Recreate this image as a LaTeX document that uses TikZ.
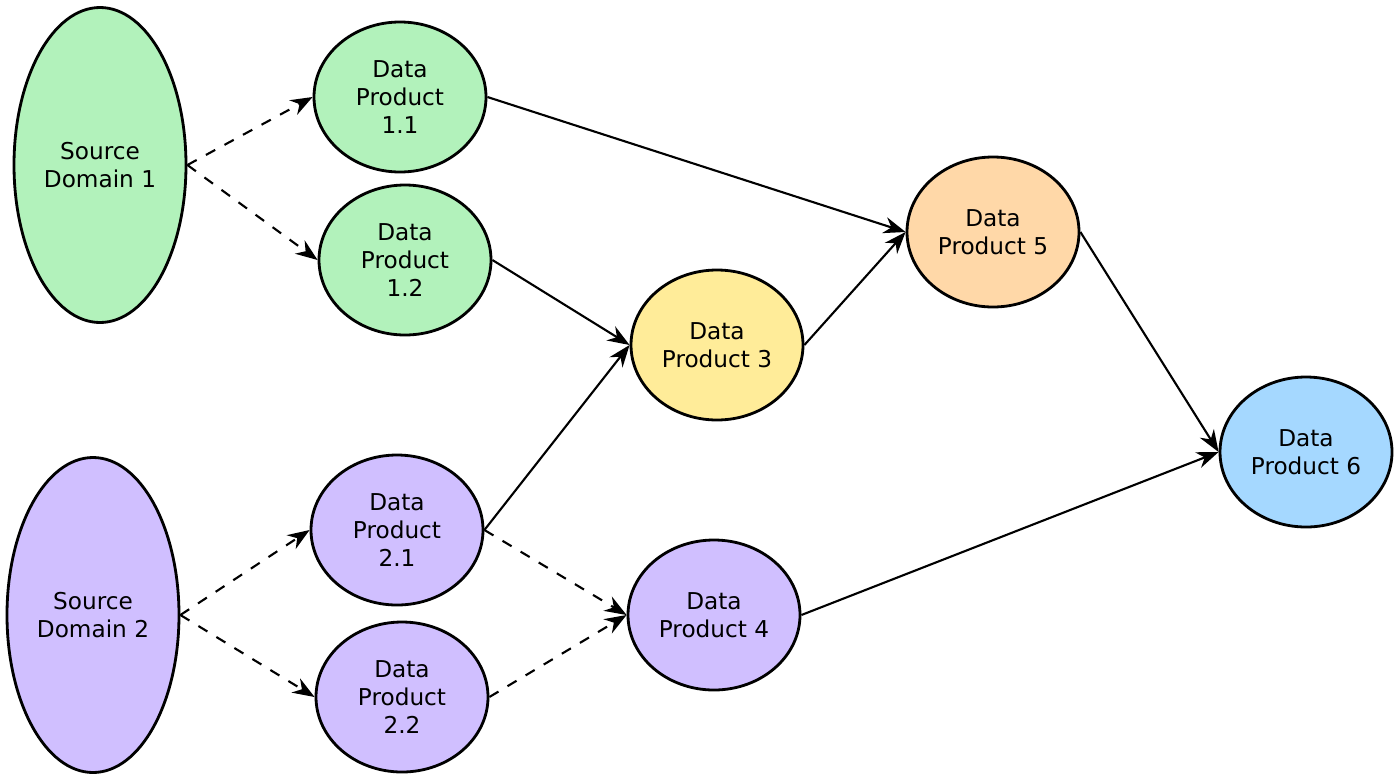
\documentclass[tikz,border=0pt]{standalone}
\usepackage{fontspec}
\setmainfont{DejaVu Sans}
\usepackage{xcolor}
\usetikzlibrary{shapes.geometric,arrows.meta}
\definecolor{dpgreen}{HTML}{B2F2BB}
\definecolor{dpviolet}{HTML}{D0BFFF}
\definecolor{dpyellow}{HTML}{FFEC99}
\definecolor{dporange}{HTML}{FFD8A8}
\definecolor{dpblue}{HTML}{A5D8FF}
\tikzset{
  prod/.style={draw, thick, ellipse, minimum width=1.72cm, minimum height=1.5cm,
               align=center, font=\fontsize{6.6}{8}\selectfont, inner sep=0pt},
  srcdom/.style={prod, minimum width=1.72cm, minimum height=3.15cm},
  flow/.style={-{Stealth[length=2.2mm]}, semithick},
  feed/.style={flow, dashed}
}
\begin{document}
\begin{tikzpicture}

    \useasboundingbox (0,0) rectangle (14,-7.82);

    % Source domains
    \node[srcdom, fill=dpgreen] (src1) at (1.00,-1.65) {Source\\Domain 1};
    \node[srcdom, fill=dpviolet] (src2) at (0.93,-6.15) {Source\\Domain 2};

    % Data products
    \node[prod, fill=dpgreen] (dp11) at (4.00,-0.97) {Data\\Product\\1.1};
    \node[prod, fill=dpgreen] (dp12) at (4.05,-2.60) {Data\\Product\\1.2};
    \node[prod, fill=dpviolet] (dp21) at (3.97,-5.30) {Data\\Product\\2.1};
    \node[prod, fill=dpviolet] (dp22) at (4.02,-6.97) {Data\\Product\\2.2};
    \node[prod, fill=dpyellow] (dp3) at (7.17,-3.45) {Data\\Product 3};
    \node[prod, fill=dpviolet] (dp4) at (7.14,-6.15) {Data\\Product 4};
    \node[prod, fill=dporange] (dp5) at (9.93,-2.32) {Data\\Product 5};
    \node[prod, fill=dpblue] (dp6) at (13.06,-4.52) {Data\\Product 6};

    % --------------------
    % Arrows
    % --------------------

    \draw[feed] (src1.east) -- (dp11.west);
    \draw[feed] (src1.east) -- (dp12.west);
    \draw[feed] (src2.east) -- (dp21.west);
    \draw[feed] (src2.east) -- (dp22.west);
    \draw[feed] (dp21.east) -- (dp4.west);
    \draw[feed] (dp22.east) -- (dp4.west);

    \draw[flow] (dp11.east) -- (dp5.west);
    \draw[flow] (dp12.east) -- (dp3.west);
    \draw[flow] (dp21.east) -- (dp3.west);
    \draw[flow] (dp3.east) -- (dp5.west);
    \draw[flow] (dp5.east) -- (dp6.west);
    \draw[flow] (dp4.east) -- (dp6.west);

\end{tikzpicture}
\end{document}
